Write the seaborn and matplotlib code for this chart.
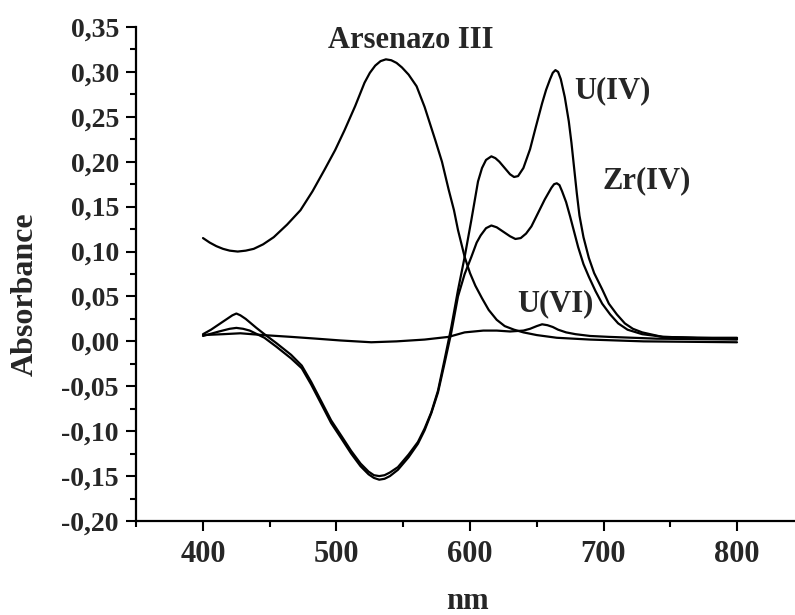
"""
Absorption spectra of Arsenazo III and its complexes with U(IV), Zr(IV), U(VI).
"""
import matplotlib
matplotlib.use('Agg')
import pandas as pd
import matplotlib.pyplot as plt
import seaborn as sns
from matplotlib.ticker import MultipleLocator, FuncFormatter

# Spectra (wavelength in nm, absorbance)
arsenazo_nm = [400, 405, 410, 415, 420, 426, 432, 438, 445, 453, 463, 473, 482, 491,
               499, 506, 514, 521, 525, 529, 533, 537, 541, 545, 549, 554, 560, 566,
               574, 579, 584, 588, 591, 596, 600, 604, 609, 614, 620, 626, 633, 640,
               650, 665, 690, 730, 800]
arsenazo_abs = [0.115, 0.110, 0.106, 0.103, 0.101, 0.100, 0.101, 0.103, 0.108, 0.116,
                0.130, 0.146, 0.167, 0.191, 0.213, 0.235, 0.262, 0.288, 0.299, 0.307,
                0.312, 0.314, 0.313, 0.310, 0.305, 0.297, 0.284, 0.261, 0.224, 0.200,
                0.169, 0.146, 0.124, 0.094, 0.076, 0.062, 0.048, 0.035, 0.024, 0.017,
                0.013, 0.010, 0.007, 0.004, 0.002, 0.000, -0.001]

u4_nm = [400, 406, 412, 418, 422, 425, 428, 432, 440, 446, 455, 466, 474, 481, 488,
         496, 504, 511, 518, 524, 528, 532, 536, 540, 546, 554, 561, 566, 571, 576,
         581, 586, 591, 596, 601, 606, 609, 612, 616, 619, 622, 626, 630, 633, 636,
         640, 645, 649, 654, 657, 660, 662, 664, 666, 668, 671, 674, 676, 678, 680,
         682, 685, 689, 693, 699, 704, 710, 716, 722, 729, 744, 770, 800]
u4_abs = [0.008, 0.013, 0.019, 0.025, 0.029, 0.031, 0.029, 0.025, 0.015, 0.008,
          -0.002, -0.015, -0.027, -0.045, -0.065, -0.088, -0.106, -0.122, -0.136,
          -0.145, -0.149, -0.150, -0.149, -0.146, -0.140, -0.126, -0.112, -0.097,
          -0.079, -0.055, -0.020, 0.016, 0.057, 0.094, 0.135, 0.178, 0.193, 0.202,
          0.206, 0.204, 0.200, 0.193, 0.186, 0.183, 0.184, 0.193, 0.214, 0.237, 0.265,
          0.280, 0.292, 0.299, 0.302, 0.300, 0.292, 0.272, 0.245, 0.221, 0.193, 0.165,
          0.140, 0.116, 0.093, 0.076, 0.058, 0.042, 0.030, 0.020, 0.014, 0.010, 0.005,
          0.004, 0.004]

zr4_nm = [400, 412, 420, 425, 430, 435, 446, 455, 466, 474, 481, 488, 496, 504, 511,
          518, 524, 528, 532, 536, 540, 546, 554, 561, 566, 571, 576, 581, 586, 591,
          596, 601, 605, 608, 612, 616, 620, 625, 630, 634, 638, 642, 646, 651, 656,
          661, 663, 665, 667, 669, 672, 675, 678, 681, 685, 689, 694, 699, 705, 711,
          718, 729, 745, 770, 800]
zr4_abs = [0.006, 0.011, 0.014, 0.015, 0.014, 0.012, 0.004, -0.006, -0.019, -0.030,
           -0.048, -0.068, -0.091, -0.109, -0.125, -0.139, -0.148, -0.152, -0.154,
           -0.153, -0.150, -0.143, -0.129, -0.114, -0.099, -0.080, -0.057, -0.024,
           0.010, 0.050, 0.075, 0.094, 0.110, 0.118, 0.126, 0.129, 0.127, 0.122, 0.117,
           0.114, 0.115, 0.120, 0.128, 0.143, 0.158, 0.171, 0.175, 0.176, 0.174, 0.167,
           0.155, 0.139, 0.122, 0.105, 0.086, 0.072, 0.056, 0.042, 0.030, 0.020, 0.013,
           0.008, 0.005, 0.004, 0.003]

u6_nm = [400, 415, 428, 445, 466, 485, 503, 526, 545, 566, 584, 596, 610, 620, 630,
         640, 645, 650, 654, 658, 662, 666, 672, 679, 690, 704, 740, 800]
u6_abs = [0.007, 0.008, 0.009, 0.007, 0.005, 0.003, 0.001, -0.001, 0.000, 0.002, 0.005,
          0.010, 0.012, 0.012, 0.011, 0.012, 0.014, 0.017, 0.019, 0.018, 0.016, 0.013,
          0.010, 0.008, 0.006, 0.005, 0.003, 0.002]

series_names = ['Arsenazo III', 'U(IV)', 'Zr(IV)', 'U(VI)']

df = pd.concat([
    pd.DataFrame({'nm': arsenazo_nm, 'A': arsenazo_abs, 'sample': 'Arsenazo III'}),
    pd.DataFrame({'nm': u4_nm, 'A': u4_abs, 'sample': 'U(IV)'}),
    pd.DataFrame({'nm': zr4_nm, 'A': zr4_abs, 'sample': 'Zr(IV)'}),
    pd.DataFrame({'nm': u6_nm, 'A': u6_abs, 'sample': 'U(VI)'}),
], ignore_index=True)

sns.set_theme(style='ticks')
plt.rcParams['font.family'] = ['Liberation Serif', 'DejaVu Serif']
plt.rcParams['font.weight'] = 'bold'

fig = plt.figure(figsize=(7.95, 6.15), dpi=100)
ax = fig.add_axes([136.25 / 795, 94 / 615, 667.5 / 795, 494 / 615])

sns.lineplot(data=df, x='nm', y='A', hue='sample', hue_order=series_names,
             palette=['black'] * 4, estimator=None, linewidth=1.6,
             legend=False, ax=ax)

ax.set_xlim(350, 850)
ax.set_ylim(-0.20, 0.35)
ax.xaxis.set_major_locator(MultipleLocator(100))
ax.xaxis.set_minor_locator(MultipleLocator(50))
ax.yaxis.set_major_locator(MultipleLocator(0.05))
ax.yaxis.set_minor_locator(MultipleLocator(0.025))
ax.yaxis.set_major_formatter(FuncFormatter(lambda v, p: f'{v:.2f}'.replace('.', ',')))
ax.xaxis.set_major_formatter(FuncFormatter(lambda v, p: f'{v:.0f}'))

sns.despine(ax=ax)
for side in ['left', 'bottom']:
    ax.spines[side].set_linewidth(1.6)
    ax.spines[side].set_color('black')

ax.tick_params(which='major', length=7.5, width=1.5, color='black', pad=5)
ax.tick_params(which='minor', length=4, width=1.5, color='black')
ax.tick_params(axis='x', labelsize=22, pad=6)
ax.tick_params(axis='y', labelsize=20)
for lbl in ax.get_xticklabels() + ax.get_yticklabels():
    lbl.set_fontweight('bold')

ax.set_xlabel('')
ax.set_ylabel('')
fig.text(25 / 795, 1 - 294 / 615, 'Absorbance', rotation=90, ha='center', va='center',
         fontsize=23, fontweight='bold')
fig.text(467 / 795, 6 / 615, 'nm', ha='center', va='baseline',
         fontsize=22, fontweight='bold')

# curve labels
ax.text(493.4, 0.327, 'Arsenazo III', fontsize=22, fontweight='bold', va='baseline')
ax.text(678.3, 0.271, 'U(IV)', fontsize=22, fontweight='bold', va='baseline')
ax.text(698.9, 0.170, 'Zr(IV)', fontsize=22, fontweight='bold', va='baseline')
ax.text(635.7, 0.034, 'U(VI)', fontsize=22, fontweight='bold', va='baseline')

fig.savefig('out.png', dpi=100)
